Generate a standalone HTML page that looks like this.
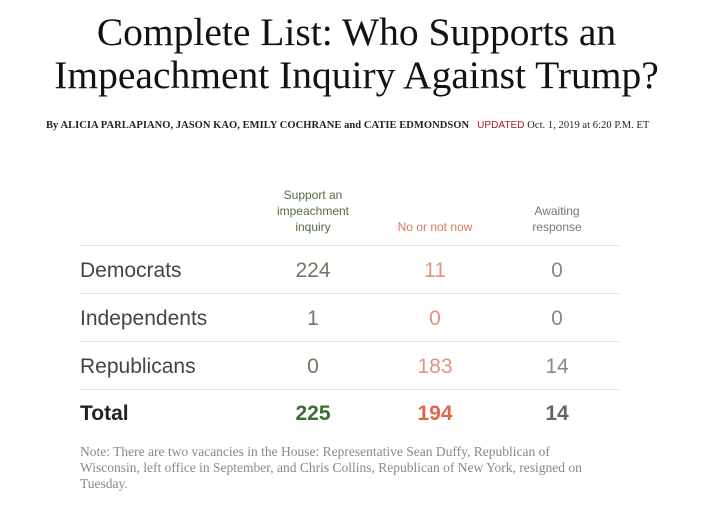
<!DOCTYPE html>
<html><head><meta charset="utf-8"><style>
body{margin:0;width:713px;height:508px;background:#fff;position:relative;overflow:hidden;font-family:"Liberation Sans",sans-serif}
.a{position:absolute;white-space:nowrap}
.t{left:0;width:713px;text-align:center;font-family:"Liberation Serif",serif;font-size:39.5px;color:#121212}
.c{text-align:center;width:120px}
.h{font-size:12px;line-height:16px}
.n{font-size:21px;font-weight:300}
.l{font-size:21px;color:#444;left:80px}
.line{position:absolute;left:80px;width:540px;height:1px;background:#e6e6e6}
</style></head><body>
<div class="a t" style="top:9px">Complete List: Who Supports an</div>
<div class="a t" style="top:52px">Impeachment Inquiry Against Trump?</div>
<div class="a" style="left:46px;top:120px;font-family:'Liberation Serif',serif;font-size:10.5px;color:#222;letter-spacing:0.05px"><b>By ALICIA PARLAPIANO, JASON KAO, EMILY COCHRANE and CATIE EDMONDSON</b>&nbsp;&nbsp;&nbsp;<span style="color:#a71f23;font-family:'Liberation Sans',sans-serif;font-size:10px">UPDATED</span> Oct. 1, 2019 at 6:20 P.M. ET</div>
<div class="a c h" style="left:253px;top:187px;color:#556b45">Support an<br>impeachment<br>inquiry</div>
<div class="a c h" style="left:375px;top:219px;color:#d67858">No or not now</div>
<div class="a c h" style="left:497px;top:203px;color:#777">Awaiting<br>response</div>
<div class="line" style="top:245px"></div>
<div class="line" style="top:293px"></div>
<div class="line" style="top:341px"></div>
<div class="line" style="top:389px"></div>
<div class="a l" style="top:259px">Democrats</div>
<div class="a l" style="top:307px">Independents</div>
<div class="a l" style="top:355px">Republicans</div>
<div class="a c n" style="left:253px;top:259px;color:#6c7a5e">224</div>
<div class="a c n" style="left:375px;top:259px;color:#df9580">11</div>
<div class="a c n" style="left:497px;top:259px;color:#888">0</div>
<div class="a c n" style="left:253px;top:307px;color:#6c7a5e">1</div>
<div class="a c n" style="left:375px;top:307px;color:#df9580">0</div>
<div class="a c n" style="left:497px;top:307px;color:#888">0</div>
<div class="a c n" style="left:253px;top:355px;color:#6c7a5e">0</div>
<div class="a c n" style="left:375px;top:355px;color:#df9580">183</div>
<div class="a c n" style="left:497px;top:355px;color:#888">14</div>
<div class="a" style="left:80px;top:402px;font-size:21px;font-weight:bold;color:#222">Total</div>
<div class="a c" style="left:253px;top:402px;font-size:21px;font-weight:bold;color:#3e6b35">225</div>
<div class="a c" style="left:375px;top:402px;font-size:21px;font-weight:bold;color:#d9694a">194</div>
<div class="a c" style="left:497px;top:402px;font-size:21px;font-weight:bold;color:#666">14</div>
<div class="a" style="left:80px;top:444px;width:530px;white-space:normal;font-family:'Liberation Serif',serif;font-size:13.5px;line-height:16px;color:#888">Note: There are two vacancies in the House: Representative Sean Duffy, Republican of Wisconsin, left office in September, and Chris Collins, Republican of New York, resigned on Tuesday.</div>
</body></html>
